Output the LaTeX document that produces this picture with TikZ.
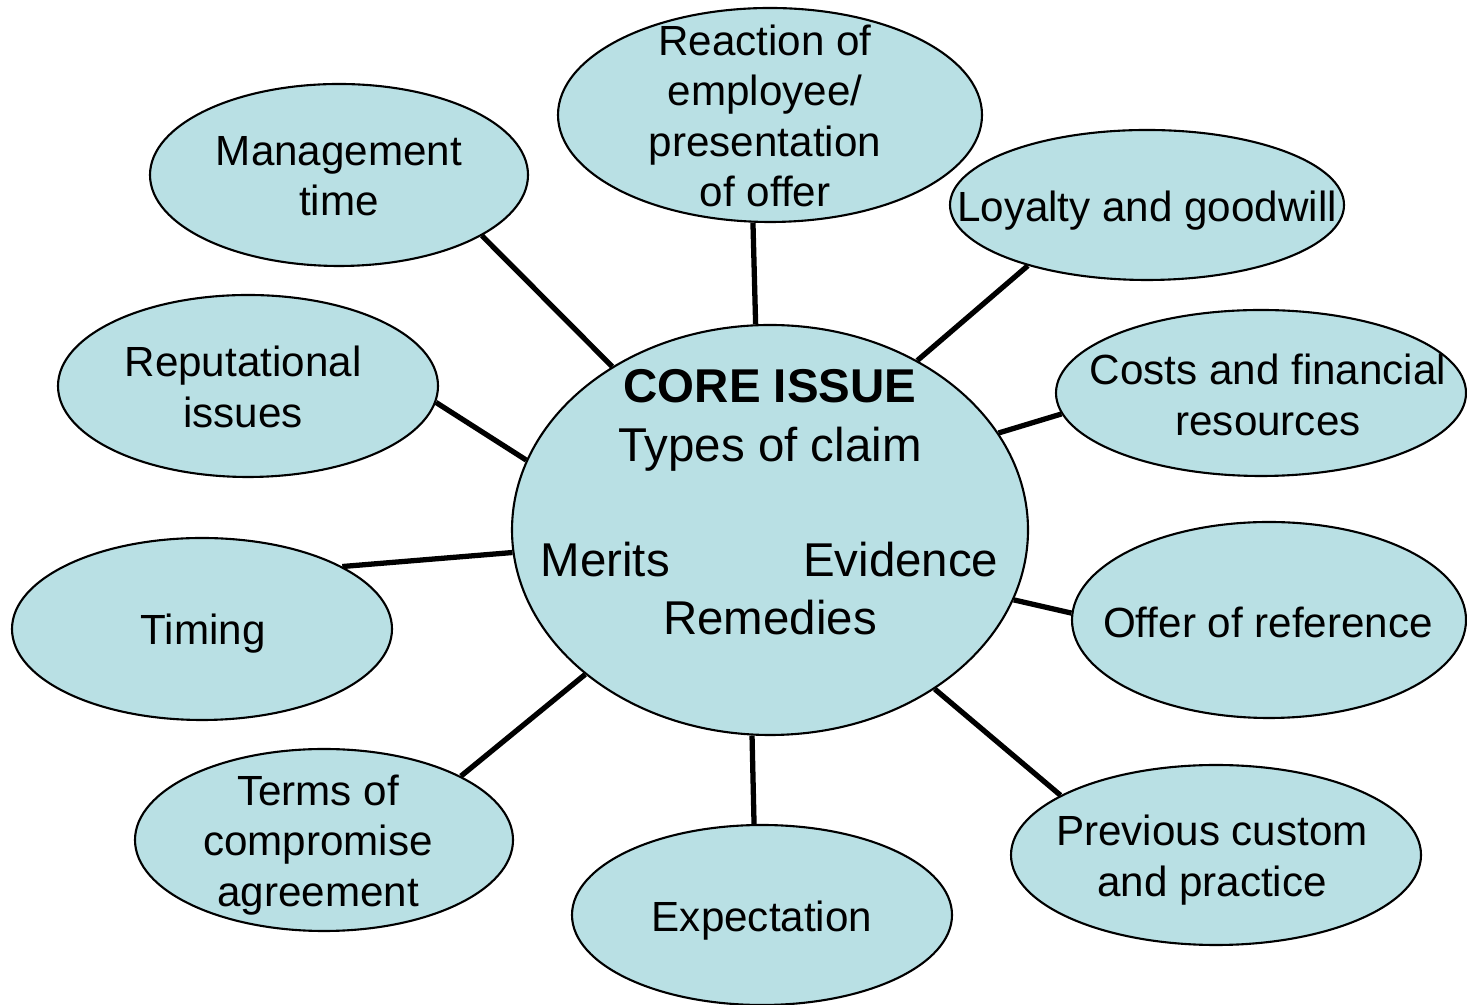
\documentclass[tikz,border=0pt]{standalone}
\usepackage{fontspec}
\setmainfont{Liberation Sans}
\usetikzlibrary{shapes.geometric}
\definecolor{bubblefill}{RGB}{185,224,228}

\begin{document}
\begin{tikzpicture}[
    bubble/.style={ellipse, draw=black, line width=0.6pt, fill=bubblefill, inner sep=0pt},
    txt/.style={align=center, font=\fontsize{12}{14.3}\selectfont},
    coretxt/.style={font=\fontsize{13.5}{16}\selectfont},
    spoke/.style={line width=1.5pt}
  ]
    \useasboundingbox (0, 0) rectangle (14.67, 10.05);
        % the bubbles
        \node[bubble, minimum width=5.16cm, minimum height=4.10cm] (core) at (7.70, 4.75) {};
        \node[bubble, minimum width=4.24cm, minimum height=2.14cm] (rea) at (7.70, 8.90) {};
        \node[bubble, minimum width=3.78cm, minimum height=1.82cm] (mgmt) at (3.39, 8.30) {};
        \node[bubble, minimum width=3.94cm, minimum height=1.50cm] (loy) at (11.47, 8.00) {};
        \node[bubble, minimum width=3.80cm, minimum height=1.82cm] (rep) at (2.48, 6.19) {};
        \node[bubble, minimum width=4.10cm, minimum height=1.66cm] (cost) at (12.61, 6.12) {};
        \node[bubble, minimum width=3.80cm, minimum height=1.82cm] (tim) at (2.02, 3.76) {};
        \node[bubble, minimum width=3.94cm, minimum height=1.96cm] (off) at (12.69, 3.85) {};
        \node[bubble, minimum width=3.78cm, minimum height=1.82cm] (terms) at (3.24, 1.65) {};
        \node[bubble, minimum width=3.80cm, minimum height=1.80cm] (expc) at (7.62, 0.90) {};
        \node[bubble, minimum width=4.10cm, minimum height=1.80cm] (prev) at (12.16, 1.50) {};
        % spokes
        \draw[spoke] (mgmt.-23) to (core.134);
        \draw[spoke] (rea.261.5) to (core.94.5);
        \draw[spoke] (loy.207) to (core.49);
        \draw[spoke] (rep.-5) to (core.164);
        \draw[spoke] (cost.186) to (core.23);
        \draw[spoke] (tim.24) to (core.185);
        \draw[spoke] (off.178) to (core.-16);
        \draw[spoke] (terms.25) to (core.218.5);
        \draw[spoke] (expc.95) to (core.265.5);
        \draw[spoke] (prev.159) to (core.-44);
        % labels
        \node[coretxt, anchor=base] (ctitle) at (7.70, 6.02) {\textbf{CORE ISSUE}};
        \node[coretxt, anchor=base] (ctypes) at (7.70, 5.43) {Types of claim};
        \node[coretxt, anchor=base west, inner sep=0pt] (cmerits) at (5.40, 4.28) {Merits};
        \node[coretxt, anchor=base east, inner sep=0pt] (cevid) at (9.99, 4.28) {Evidence};
        \node[coretxt, anchor=base] (crem) at (7.70, 3.70) {Remedies};
        \node[txt] (reatxt) at (7.65, 8.89) {Reaction of\\employee/\\presentation\\of offer};
        \node[txt] (mgmttxt) at (3.39, 8.29) {Management\\time};
        \node[txt] (loytxt) at (11.47, 7.94) {Loyalty and goodwill};
        \node[txt] (reptxt) at (2.43, 6.18) {Reputational\\issues};
        \node[txt] (costtxt) at (12.68, 6.10) {Costs and financial\\resources};
        \node[txt] (timtxt) at (2.03, 3.71) {Timing};
        \node[txt] (offtxt) at (12.68, 3.83) {Offer of reference};
        \node[txt] (termstxt) at (3.18, 1.60) {Terms of\\compromise\\agreement};
        \node[txt] (expctxt) at (7.62, 0.84) {Expectation};
        \node[txt] (prevtxt) at (12.12, 1.45) {Previous custom\\and practice};
\end{tikzpicture}
\end{document}
